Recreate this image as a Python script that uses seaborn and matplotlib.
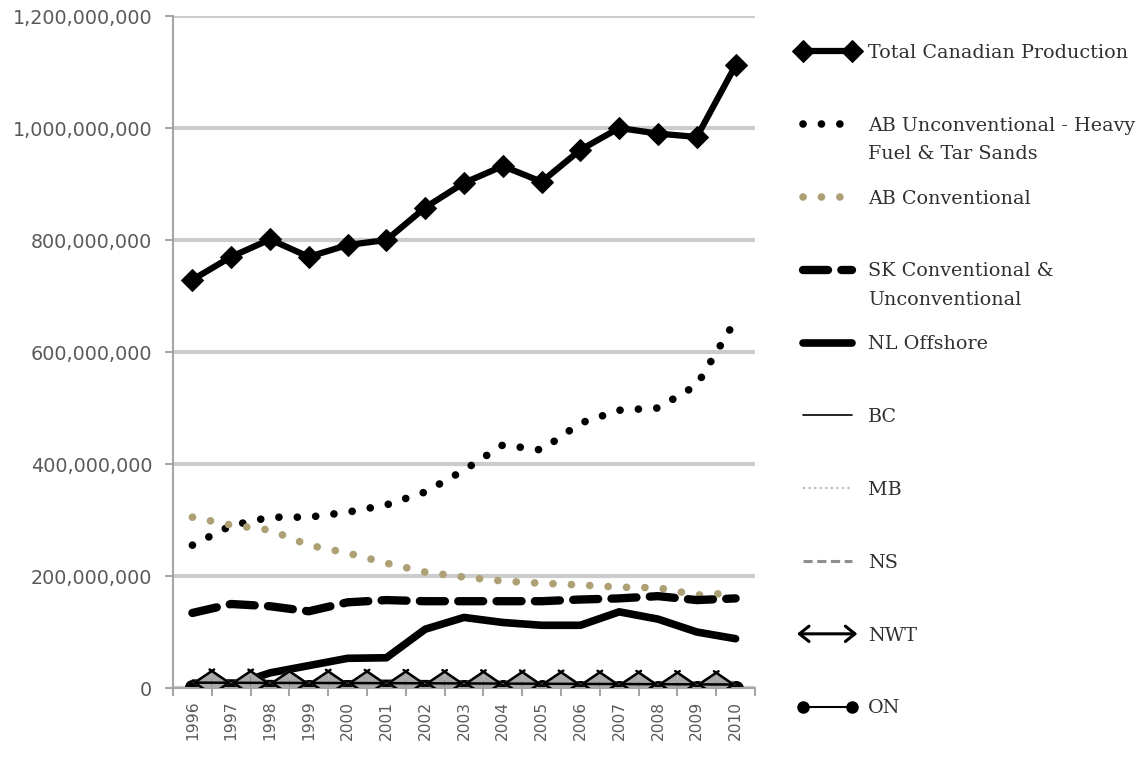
import matplotlib
matplotlib.use("Agg")
import matplotlib.pyplot as plt
import seaborn as sns
from matplotlib.ticker import FuncFormatter, FixedLocator, MultipleLocator
from matplotlib.legend_handler import HandlerBase
from matplotlib.lines import Line2D
from matplotlib.patches import FancyArrowPatch

# Annual crude oil production by region (barrels)
years = list(range(1996, 2011))
total = [729e6, 770e6, 801e6, 770e6, 791e6, 800e6, 858e6, 902e6, 932e6, 904e6,
         961e6, 1000e6, 990e6, 984e6, 1112e6]
ab_unconventional = [255e6, 290e6, 305e6, 305e6, 314e6, 327e6, 350e6, 389e6, 434e6, 425e6,
                     473e6, 496e6, 500e6, 541e6, 657e6]
ab_conventional = [305e6, 291e6, 282e6, 255e6, 241e6, 223e6, 207e6, 198e6, 191e6, 187e6,
                   184e6, 180e6, 179e6, 166e6, 170e6]
sk = [134e6, 150e6, 146e6, 137e6, 153e6, 157e6, 155e6, 155e6, 155e6, 155e6,
      158e6, 160e6, 164e6, 157e6, 160e6]
nl_offshore = [0.0, 4e6, 27e6, 40e6, 53e6, 54e6, 105e6, 126e6, 117e6, 112e6,
               112e6, 136e6, 123e6, 100e6, 88e6]
bc = [14.0e6, 14.2e6, 13.1e6, 12.0e6, 12.8e6, 13.6e6, 13.0e6, 12.2e6, 11.6e6, 10.4e6,
      9.8e6, 9.6e6, 9.0e6, 8.4e6, 8.2e6]
mb = [4.5e6, 4.6e6, 4.4e6, 4.1e6, 4.3e6, 4.5e6, 4.6e6, 4.6e6, 4.7e6, 5.4e6,
      6.6e6, 8.0e6, 9.4e6, 10.8e6, 11.6e6]
ns = [2.8e6, 2.5e6, 2.3e6, 1.9e6, 7.5e6, 8.8e6, 8.2e6, 7.0e6, 5.6e6, 4.6e6,
      4.1e6, 3.7e6, 3.0e6, 2.6e6, 2.2e6]
nwt = [9.6e6, 9.4e6, 9.1e6, 9.0e6, 8.8e6, 8.7e6, 8.4e6, 8.2e6, 7.9e6, 7.6e6,
       7.3e6, 7.1e6, 6.8e6, 6.5e6, 6.2e6]
on = [1.6e6, 1.5e6, 1.4e6, 1.3e6, 1.2e6, 1.1e6, 1.0e6, 1.0e6, 0.9e6, 0.9e6,
      0.8e6, 0.8e6, 0.7e6, 0.6e6, 0.6e6]

legend_first_lines = ["Total Canadian Production", "AB Unconventional - Heavy", "AB Conventional",
                      "SK Conventional &", "NL Offshore", "BC", "MB", "NS", "NWT", "ON"]
legend_second_lines = {1: "Fuel & Tar Sands", 3: "Unconventional"}

TAN = "#ada074"
GRID = "#cccccc"
AXIS = "#a6a6a6"
TICKTXT = "#5a5a5a"
LEGTXT = "#303030"
LEG_FONT = dict(family="DejaVu Serif", size=13.8)

sns.set_theme(style="white")
plt.rcParams["font.family"] = ["DejaVu Sans"]

fig = plt.figure(figsize=(11.4, 7.57), dpi=100)
ax = fig.add_axes([173 / 1140, 1 - 688 / 757, (755 - 173) / 1140, (688 - 16) / 757])

styles = [
    (total, dict(color="black", lw=4.5, marker="D", ms=11.5, mec="black", mfc="black",
                 solid_joinstyle="miter")),
    (ab_unconventional, dict(color="black", lw=5.5, linestyle=(0, (0.01, 2.4)),
                             dash_capstyle="round")),
    (ab_conventional, dict(color=TAN, lw=5.5, linestyle=(0, (0.01, 2.4)),
                           dash_capstyle="round")),
    (sk, dict(color="black", lw=6, linestyle=(0, (3, 1.6)), dash_capstyle="round")),
    (nl_offshore, dict(color="black", lw=5.5, solid_capstyle="round")),
    (bc, dict(color="black", lw=1.2)),
    (mb, dict(color="#bdbdbd", lw=1.6, linestyle=(0, (1, 1.5)))),
    (ns, dict(color="#8f8f8f", lw=2.2, linestyle=(0, (3, 1.5)))),
    (nwt, dict(color="black", lw=1.6)),
    (on, dict(color="black", lw=8.5, marker="o", ms=10, mec="black", mfc="black",
              solid_capstyle="round")),
]

lines = []
for (values, kw), name in zip(styles, legend_first_lines):
    sns.lineplot(x=years, y=values, ax=ax, label=name, errorbar=None, **kw)
    lines.append(ax.get_lines()[-1])

# NWT segments carry arrowheads at both ends: a grey filled head under a black open head
for i in range(len(years) - 1):
    for style, props in (
        ("<|-|>,head_length=1.4,head_width=0.95", dict(fc="#a8a8a8", ec="none", lw=0)),
        ("<->,head_length=1.4,head_width=0.95", dict(color="black", lw=1.8)),
    ):
        ann = ax.annotate("", xy=(years[i + 1], nwt[i + 1]), xytext=(years[i], nwt[i]),
                          annotation_clip=False,
                          arrowprops=dict(arrowstyle=style, mutation_scale=10,
                                          shrinkA=0, shrinkB=0, **props))
        ann.arrow_patch.set_clip_box(ax.bbox)
        ann.arrow_patch.set_clip_on(True)
        ann.arrow_patch.set_zorder(1.9)

ax.set_xlim(1995.5, 2010.5)
ax.set_ylim(0, 1.2e9)
ax.set_xlabel("")
ax.set_ylabel("")

ax.yaxis.set_major_locator(MultipleLocator(2e8))
ax.yaxis.set_major_formatter(FuncFormatter(lambda v, p: f"{int(round(v)):,}"))
ax.xaxis.set_major_locator(FixedLocator(years))
ax.xaxis.set_minor_locator(FixedLocator([y + 0.5 for y in [1995] + years]))
ax.set_xticklabels([str(y) for y in years], rotation=90)

ax.tick_params(axis="y", which="major", length=6, width=1.5, color=AXIS, pad=9,
               labelsize=13.8, labelcolor=TICKTXT, left=True)
ax.tick_params(axis="x", which="major", length=0, pad=9, labelsize=11.2, labelcolor=TICKTXT)
ax.tick_params(axis="x", which="minor", length=6, width=1.5, color=AXIS, bottom=True)

ax.grid(axis="y", color=GRID, lw=3)
ax.grid(axis="x", visible=False)
ax.set_axisbelow(True)
for side in ("top", "right"):
    ax.spines[side].set_visible(False)
for side in ("left", "bottom"):
    ax.spines[side].set_color(AXIS)
    ax.spines[side].set_linewidth(1.5)


class HandlerDoubleArrow(HandlerBase):
    def create_artists(self, legend, orig_handle, xdescent, ydescent, width, height,
                       fontsize, trans):
        y = height / 2 - ydescent
        arrow = FancyArrowPatch((-xdescent, y), (-xdescent + width, y),
                                arrowstyle="<->,head_length=0.5,head_width=0.4",
                                mutation_scale=fontsize, lw=2.2, color="black",
                                shrinkA=0, shrinkB=0, transform=trans)
        return [arrow]


# legend keys: ON is keyed as a thin line with end dots
handles = lines[:9] + [Line2D([], [], color="black", lw=1.5, marker="o", ms=8)]

leg = ax.legend(handles=handles, labels=legend_first_lines, loc="upper left",
                bbox_to_anchor=(797 / 1140, 1 - 44 / 757), bbox_transform=fig.transFigure,
                frameon=False, numpoints=2, handlelength=3.15, handletextpad=0.55,
                labelspacing=2.86, borderpad=0, borderaxespad=0, prop=LEG_FONT,
                handler_map={lines[8]: HandlerDoubleArrow()})
for t in leg.get_texts():
    t.set_color(LEGTXT)

fig.canvas.draw()
for idx, text in legend_second_lines.items():
    ax.annotate(text, xy=(0, 0), xycoords=leg.get_texts()[idx], xytext=(0, -7.5),
                textcoords="offset points", va="top", ha="left", zorder=6,
                color=LEGTXT, **LEG_FONT)

fig.savefig("out.png", dpi=100)
